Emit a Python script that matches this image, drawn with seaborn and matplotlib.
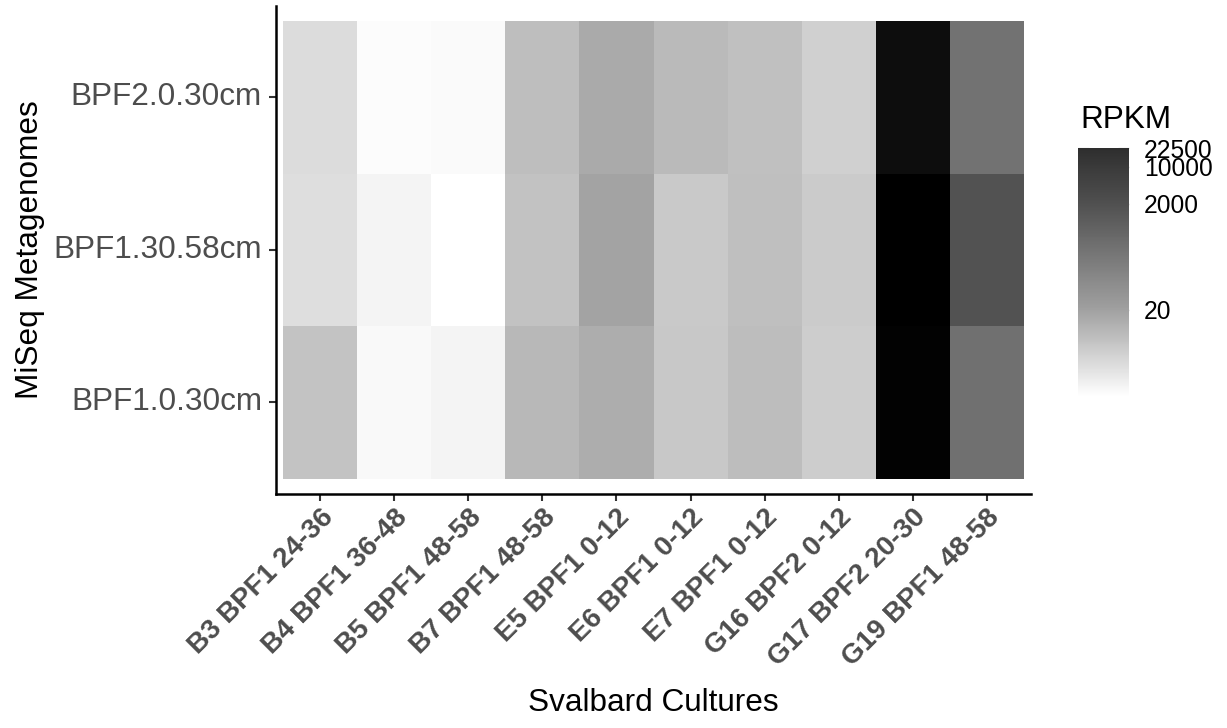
import numpy as np
import pandas as pd
import matplotlib
matplotlib.use("Agg")
import matplotlib.pyplot as plt
import seaborn as sns
from matplotlib.colors import LogNorm, LinearSegmentedColormap, ListedColormap
from matplotlib.cm import ScalarMappable

# ---- data -------------------------------------------------------------
cultures = ["B3 BPF1 24-36", "B4 BPF1 36-48", "B5 BPF1 48-58", "B7 BPF1 48-58",
            "E5 BPF1 0-12", "E6 BPF1 0-12", "E7 BPF1 0-12", "G16 BPF2 0-12",
            "G17 BPF2 20-30", "G19 BPF1 48-58"]
metagenomes = ["BPF2.0.30cm", "BPF1.30.58cm", "BPF1.0.30cm"]

rpkm_bpf2_0_30 = [1.81, 0.50, 0.55, 6.0, 13.4, 7.1, 5.6, 2.9, 127000, 282]
rpkm_bpf1_30_58 = [1.67, 0.69, 0.45, 5.1, 17.7, 3.9, 5.8, 3.6, 251000, 1780]
rpkm_bpf1_0_30 = [4.9, 0.57, 0.69, 7.7, 11.9, 4.0, 6.3, 3.3, 226000, 317]

legend_breaks = [20, 2000, 10000, 22500]
legend_labels = ["20", "2000", "10000", "22500"]
legend_low, legend_high = 0.45, 22500

# ---- styling ----------------------------------------------------------
sns.set_style("white")
plt.rcParams["font.family"] = ["Liberation Sans", "DejaVu Sans"]

df = pd.DataFrame([rpkm_bpf2_0_30, rpkm_bpf1_30_58, rpkm_bpf1_0_30],
                  index=metagenomes, columns=cultures)

# grey ramp on a log scale (value -> grey level)
norm = LogNorm(vmin=legend_low, vmax=df.values.max())
ramp = [(legend_low, 1.0), (20, 160 / 255), (2000, 80 / 255),
        (10000, 58 / 255), (22500, 46 / 255), (df.values.max(), 0.0)]
cmap = LinearSegmentedColormap.from_list(
    "rpkm_grey", [(float(norm(v)), (g, g, g)) for v, g in ramp], N=1024)

fig = plt.figure(figsize=(12.27, 7.28), dpi=100)
ax = fig.add_axes([0.22494, 0.32143, 0.61532, 0.67033])

sns.heatmap(df, cmap=cmap, norm=norm, cbar=False, ax=ax, linewidths=0)

ax.set_xlim(-0.1, len(cultures) + 0.1)
ax.set_ylim(len(metagenomes) + 0.1, -0.1)

for side in ("left", "bottom"):
    ax.spines[side].set_visible(True)
    ax.spines[side].set_color("black")
    ax.spines[side].set_linewidth(1.8)
for side in ("top", "right"):
    ax.spines[side].set_visible(False)

ax.set_xticks(np.arange(len(cultures)) + 0.5)
ax.set_xticklabels(cultures, rotation=45, ha="right", va="top",
                   rotation_mode="anchor", fontweight="bold",
                   fontsize=20, color="#4d4d4d")
ax.set_yticks(np.arange(len(metagenomes)) + 0.5)
ax.set_yticklabels(metagenomes, rotation=0, fontsize=22.7, color="#4d4d4d")

ax.tick_params(axis="both", which="major", direction="out", length=5,
               width=1.5, color="#333333", bottom=True, left=True)
ax.tick_params(axis="y", pad=5)
ax.tick_params(axis="x", pad=2.5)

ax.set_xlabel("Svalbard Cultures", fontsize=22.7, color="black")
ax.set_ylabel("MiSeq Metagenomes", fontsize=22.7, color="black")
ax.xaxis.label.set_va("baseline")
ax.yaxis.label.set_va("baseline")
ax.xaxis.set_label_coords(0.5, -0.4447)
ax.yaxis.set_label_coords(-0.3152, 0.5)

# ---- colour legend ----------------------------------------------------
top_pos = float(norm(legend_high))
legend_cmap = ListedColormap(cmap(np.linspace(0.0, top_pos, 256)))
legend_norm = LogNorm(vmin=legend_low, vmax=legend_high)
cax = fig.add_axes([0.87856, 0.45467, 0.04157, 0.34203])
cbar = fig.colorbar(ScalarMappable(norm=legend_norm, cmap=legend_cmap), cax=cax)
cbar.outline.set_visible(False)
cbar.minorticks_off()
cbar.set_ticks(legend_breaks, labels=legend_labels)
cax.tick_params(which="major", direction="in", left=True, right=True,
                length=8, width=1.0, color="#d9d9d9", labelsize=17.7,
                labelcolor="black", pad=10.8)
cax.tick_params(which="minor", left=False, right=False)

fig.text(1080 / 1227, 1 - 128.5 / 728, "RPKM", fontsize=22.7,
         ha="left", va="baseline", color="black")

fig.savefig("out.png", dpi=100)
